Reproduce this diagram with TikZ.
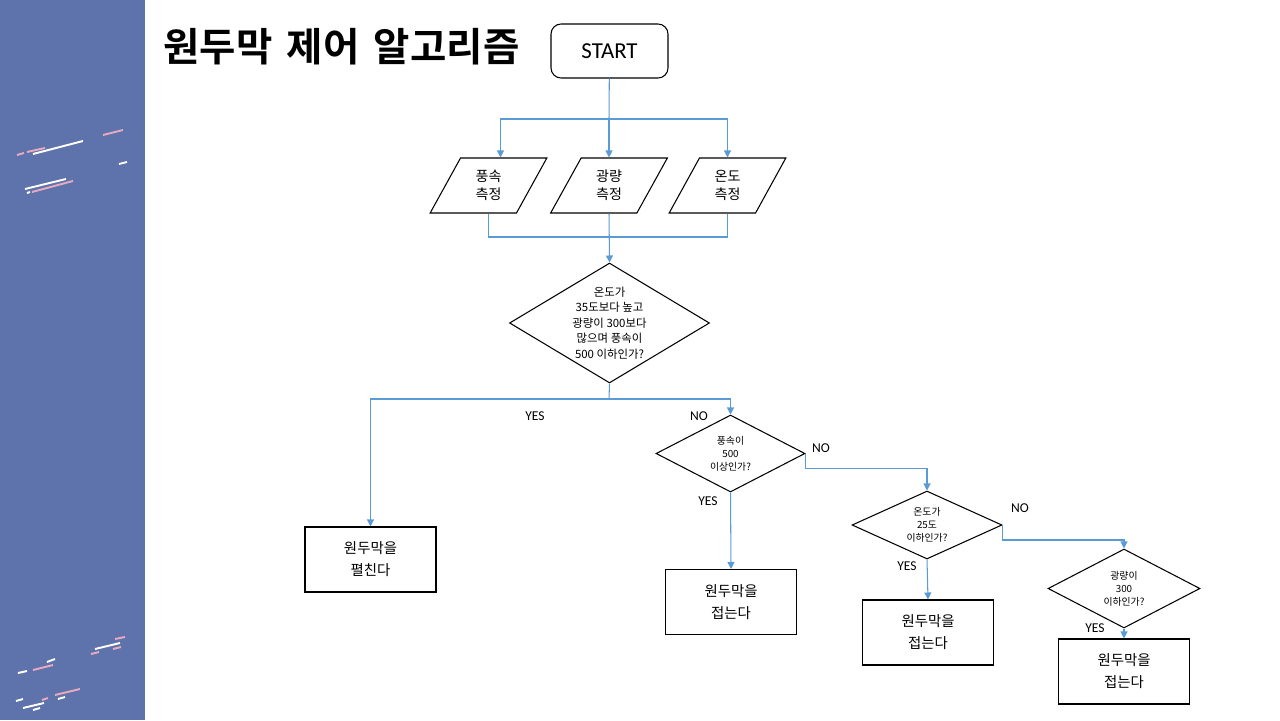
\documentclass[tikz,border=0pt]{standalone}
\usepackage{fontspec}
\usepackage{xcolor}
\usetikzlibrary{shapes.geometric,arrows.meta}
\setmainfont{Noto Sans CJK KR}
\newfontfamily\latfont{Carlito}
\newfontfamily\titlefont[WordSpace=1.6]{Noto Sans CJK KR Bold}
\definecolor{sidebar}{RGB}{94,114,171}
\definecolor{flow}{RGB}{91,155,213}
\definecolor{dashpink}{RGB}{232,170,190}

\begin{document}
\begin{tikzpicture}[
    x=0.02cm, y=-0.02cm,
    box/.style={
        draw,
        line width=0.6pt,
        align=center,
        minimum width=2.62cm,
        minimum height=1.3cm,
        inner sep=0pt,
        font=\fontsize{8.2}{12.5}\selectfont
    },
    startbox/.style={
        draw,
        line width=0.6pt,
        rounded corners=0.2cm,
        minimum width=2.34cm,
        minimum height=1.08cm,
        font=\latfont\fontsize{13}{15}\selectfont
    },
    inputbox/.style={
        draw,
        line width=0.6pt,
        trapezium,
        trapezium left angle=65,
        trapezium right angle=115,
        trapezium stretches=true,
        minimum width=2.34cm,
        minimum height=1.1cm,
        inner sep=0pt,
        align=center,
        font=\fontsize{8}{10}\selectfont
    },
    decision/.style={
        draw,
        line width=0.6pt,
        diamond,
        inner sep=0pt
    },
    dtext/.style={
        align=center,
        inner sep=0pt,
        font=\fontsize{6.5}{8.8}\selectfont
    },
    stext/.style={
        align=center,
        inner sep=0pt,
        font=\fontsize{5.6}{7.4}\selectfont
    },
    answer/.style={
        inner sep=0pt,
        font=\latfont\fontsize{7.7}{9}\selectfont
    },
    link/.style={
        draw=flow,
        line width=0.6pt
    },
    arrow/.style={
        link,
        -{Triangle[length=0.14cm,width=0.14cm]}
    },
    stroke/.style={
        line width=1.1pt
    }
]
\useasboundingbox (0,0) rectangle (1280,720);

\fill[sidebar] (0,0) rectangle (145,720);

\draw[stroke, dashpink] (17,155) -- (24,153);
\draw[stroke, dashpink] (27,152) -- (45,148);
\draw[stroke, white] (33,154) -- (83,141);
\draw[stroke, dashpink] (103,135) -- (123,130);
\draw[stroke, white] (119,164) -- (127,162);
\draw[stroke, white] (25,189) -- (66,179);
\draw[stroke, dashpink] (32,192) -- (73,181);
\draw[stroke, white] (27,193) -- (30,192);

\draw[stroke, dashpink] (115,639) -- (125,637);
\draw[stroke, white] (95,649) -- (120,643);
\draw[stroke, dashpink] (113,649) -- (121,647);
\draw[stroke, dashpink] (91,654) -- (99,652);
\draw[stroke, white] (47,662) -- (55,659);
\draw[stroke, dashpink] (33,670) -- (53,665);
\draw[stroke, white] (18,673) -- (27,671);
\draw[stroke, dashpink] (55,695) -- (80,689);
\draw[stroke, white] (58,699) -- (65,697);
\draw[stroke, dashpink] (42,700) -- (48,698);
\draw[stroke, white] (16,701) -- (23,699);
\draw[stroke, white] (23,708) -- (44,703);
\draw[stroke, white] (33,710) -- (40,708);

\node[anchor=west, inner sep=0pt, font=\titlefont\fontsize{22.5}{26}\selectfont] (title) at (163,47)
{
    원두막 제어 알고리즘
};

\node[startbox] (start) at (609.5,51)
{
    START
};

\node[inputbox] (wind) at (488.5,185.5)
{
    풍속\\
    측정
};

\node[inputbox] (light) at (609,185.5)
{
    광량\\
    측정
};

\node[inputbox] (temp) at (727.5,185.5)
{
    온도\\
    측정
};

\node[decision, minimum width=4cm, minimum height=2.4cm,
      label={[dtext]center:{온도가\\35도보다 높고\\광량이 300보다\\많으며 풍속이\\500 이하인가?}}] (check) at (609.5,323) {};

\node[decision, minimum width=2.98cm, minimum height=1.54cm,
      label={[stext]center:{풍속이\\500\\이상인가?}}] (windcheck) at (730.5,453.5) {};

\node[decision, minimum width=3cm, minimum height=1.36cm,
      label={[stext]center:{온도가\\25도\\이하인가?}}] (tempcheck) at (927,525) {};

\node[decision, minimum width=3.04cm, minimum height=1.58cm,
      label={[stext]center:{광량이\\300\\이하인가?}}] (lightcheck) at (1124,588.5) {};

\node[box] (open) at (370.5,559.5)
{
    원두막을\\
    펼친다
};

\node[box] (close1) at (731,602)
{
    원두막을\\
    접는다
};

\node[box] (close2) at (928,632.5)
{
    원두막을\\
    접는다
};

\node[box] (close3) at (1124,671.5)
{
    원두막을\\
    접는다
};

\coordinate (split1) at (609,119);
\coordinate (join1) at (609,237);
\coordinate (split2) at (609,399);

\draw[link] (start) -- (split1);
\draw[arrow] (split1) -| ([xshift=0.24cm]wind.north);
\draw[arrow] (split1) -- (light.center |- light.north);
\draw[arrow] (split1) -| (temp.center |- temp.north);

\draw[link] (wind.center |- wind.south) |- (join1);
\draw[link] (temp.center |- temp.south) |- (join1);
\draw[arrow] (light.center |- light.south) -- (check.north);

\draw[link] (check.south) -- (split2);
\draw[arrow] (split2) -| (open.north);
\draw[arrow] (split2) -| (windcheck.north);

\draw[arrow] (windcheck.south) -- (close1.north);
\draw[arrow] (windcheck.east) -- ++(0,15) -| (tempcheck.north);

\draw[arrow] (tempcheck.south) -- (close2.north);
\draw[arrow] (tempcheck.east) -- ++(0,15) -| (lightcheck.north);

\draw[arrow] (lightcheck.south) -- (close3.north);

\node[answer] (yes1) at (535,416) {YES};
\node[answer] (no1) at (699,416) {NO};
\node[answer] (no2) at (821,448) {NO};
\node[answer] (yes2) at (708,501) {YES};
\node[answer] (no3) at (1020,508) {NO};
\node[answer] (yes3) at (907,566) {YES};
\node[answer] (yes4) at (1095,628) {YES};

\end{tikzpicture}
\end{document}
